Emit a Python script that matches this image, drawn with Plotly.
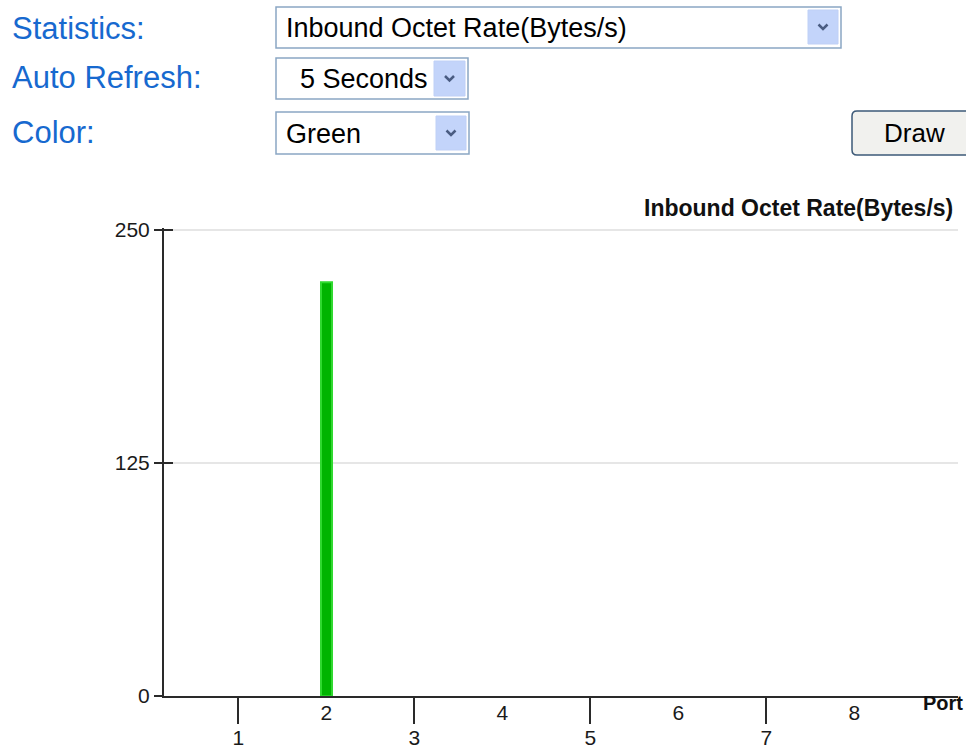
import plotly.graph_objects as go

# Port statistics shown in the bar chart
ports = [1, 2, 3, 4, 5, 6, 7, 8]
inbound_rate = [0, 222, 0, 0, 0, 0, 0, 0]
y_ticks = [0, 125, 250]
odd_ports = [1, 3, 5, 7]
even_ports = [2, 4, 6, 8]

chart_title = "Inbound Octet Rate(Bytes/s)"
form_labels = ["Statistics:", "Auto Refresh:", "Color:"]
form_values = ["Inbound Octet Rate(Bytes/s)", "5 Seconds", "Green"]

W, H = 966, 748


def px(x):
    return x / W


def py(y):
    return 1 - y / H


LABEL_FONT = "Liberation Sans, Arial, sans-serif"
TICK_FONT = "Liberation Sans Narrow, Arial Narrow, Liberation Sans, Arial, sans-serif"
BLUE = "#1769cf"
AXIS = "#2a2a2a"

fig = go.Figure()

fig.add_trace(go.Bar(
    x=ports, y=inbound_rate, width=0.12,
    marker=dict(color="#00b400",
                line=dict(color="#2fd92f", width=[2 if v else 0 for v in inbound_rate])),
    xaxis="x", yaxis="y", hoverinfo="skip", showlegend=False,
))
# invisible companions so the overlay axes get drawn
fig.add_trace(go.Scatter(x=ports, y=inbound_rate, mode="none", xaxis="x2", yaxis="y",
                         hoverinfo="skip", showlegend=False))
fig.add_trace(go.Scatter(x=ports, y=inbound_rate, mode="none", xaxis="x", yaxis="y2",
                         hoverinfo="skip", showlegend=False))

x_lo = 1 - (238.3 - 164) / 88
x_hi = 1 + (958 - 238.3) / 88
y_hi = 251
xdom = [px(164), px(958)]
ydom = [py(696), py(696 - 466 * y_hi / 250)]

tickfont = dict(family=TICK_FONT, size=21, color="#1a1a1a")

fig.update_layout(
    width=W, height=H,
    margin=dict(l=0, r=0, t=0, b=0, pad=0),
    paper_bgcolor="white", plot_bgcolor="white",
    bargap=0,
    xaxis=dict(
        domain=xdom, range=[x_lo, x_hi], anchor="y", automargin=False,
        tickmode="array", tickvals=odd_ports, ticktext=[str(p) for p in odd_ports],
        ticks="outside", ticklen=26, tickwidth=2, tickcolor=AXIS, ticklabelstandoff=-4,
        showline=True, linecolor=AXIS, linewidth=2,
        showgrid=False, zeroline=False, tickfont=tickfont,
    ),
    xaxis2=dict(
        domain=xdom, range=[x_lo, x_hi], anchor="y", overlaying="x", automargin=False,
        tickmode="array", tickvals=even_ports, ticktext=[str(p) for p in even_ports],
        ticks="outside", ticklen=3, tickcolor="rgba(0,0,0,0)", ticklabelstandoff=-5,
        showline=False, showgrid=False, zeroline=False, tickfont=tickfont,
    ),
    yaxis=dict(
        domain=ydom, range=[0, y_hi], anchor="x", automargin=False,
        tickmode="array", tickvals=y_ticks, ticktext=[str(v) for v in y_ticks],
        ticks="outside", ticklen=8, tickwidth=2, tickcolor=AXIS,
        showline=True, linecolor=AXIS, linewidth=2,
        showgrid=True, gridcolor="#e6e6e6", gridwidth=2,
        zeroline=False, tickfont=tickfont,
    ),
    yaxis2=dict(
        domain=ydom, range=[0, y_hi], anchor="x", overlaying="y", automargin=False,
        tickmode="array", tickvals=y_ticks, showticklabels=False,
        ticks="inside", ticklen=9, tickwidth=2, tickcolor=AXIS,
        showline=False, showgrid=False, zeroline=False,
    ),
)

annotations = []
shapes = []

# chart title and axis name
annotations.append(dict(text="<b>" + chart_title + "</b>", x=px(955), y=py(208),
                        xref="paper", yref="paper", xanchor="right", yanchor="middle",
                        showarrow=False, font=dict(family=LABEL_FONT, size=23, color="#111")))
annotations.append(dict(text="<b>Port</b>", x=px(965), y=py(703),
                        xref="paper", yref="paper", xanchor="right", yanchor="middle",
                        showarrow=False, font=dict(family=LABEL_FONT, size=20, color="#111")))

# form controls above the chart
label_y = [28, 78, 133]
for text, yc in zip(form_labels, label_y):
    annotations.append(dict(text=text, x=px(10), y=py(yc), xref="paper", yref="paper",
                            xanchor="left", yanchor="middle", showarrow=False,
                            font=dict(family=LABEL_FONT, size=31, color=BLUE)))

boxes = [  # x0, x1, y0, y1 of each select box and its arrow button
    ((276, 841, 7, 48), (808, 838, 10, 44)),
    ((276, 468, 58, 99), (434, 465, 61, 96)),
    ((276, 469, 112, 154), (436, 466, 116, 150)),
]
value_x = [284, 298, 284]
for (box, arrow), text, tx in zip(boxes, form_values, value_x):
    x0, x1, y0, y1 = box
    shapes.append(dict(type="rect", xref="paper", yref="paper",
                       x0=px(x0), x1=px(x1), y0=py(y1), y1=py(y0),
                       line=dict(color="#8aa6c4", width=1.5), fillcolor="white"))
    ax0, ax1, ay0, ay1 = arrow
    shapes.append(dict(type="rect", xref="paper", yref="paper",
                       x0=px(ax0), x1=px(ax1), y0=py(ay1), y1=py(ay0),
                       line=dict(color="#bfd0f6", width=1), fillcolor="#c3d4fa"))
    cx, cy = (ax0 + ax1) / 2, (ay0 + ay1) / 2
    path = "M {} {} L {} {} L {} {}".format(px(cx - 4.5), py(cy - 2.5), px(cx), py(cy + 2),
                                           px(cx + 4.5), py(cy - 2.5))
    shapes.append(dict(type="path", xref="paper", yref="paper", path=path,
                       line=dict(color="#4a5c82", width=2.5)))
    annotations.append(dict(text=text, x=px(tx), y=py((y0 + y1) / 2 + 0.5), xref="paper",
                            yref="paper", xanchor="left", yanchor="middle", showarrow=False,
                            font=dict(family=LABEL_FONT, size=27, color="#000")))

# Draw button with rounded corners
bx0, bx1, by0, by1, r = 852, 975, 111, 155, 5
rounded = ("M {a} {b} L {c} {b} Q {d} {b} {d} {e} L {d} {f} Q {d} {g} {c} {g} "
           "L {a} {g} Q {h} {g} {h} {f} L {h} {e} Q {h} {b} {a} {b} Z").format(
    a=px(bx0 + r), b=py(by0), c=px(bx1 - r), d=px(bx1), e=py(by0 + r),
    f=py(by1 - r), g=py(by1), h=px(bx0))
shapes.append(dict(type="path", xref="paper", yref="paper", path=rounded,
                   line=dict(color="#3d5a78", width=1.5), fillcolor="#f1f1ee"))
annotations.append(dict(text="Draw", x=px(914), y=py(133), xref="paper", yref="paper",
                        xanchor="center", yanchor="middle", showarrow=False,
                        font=dict(family=LABEL_FONT, size=26, color="#000")))

fig.update_layout(annotations=annotations, shapes=shapes)

fig.write_html("out.html")
